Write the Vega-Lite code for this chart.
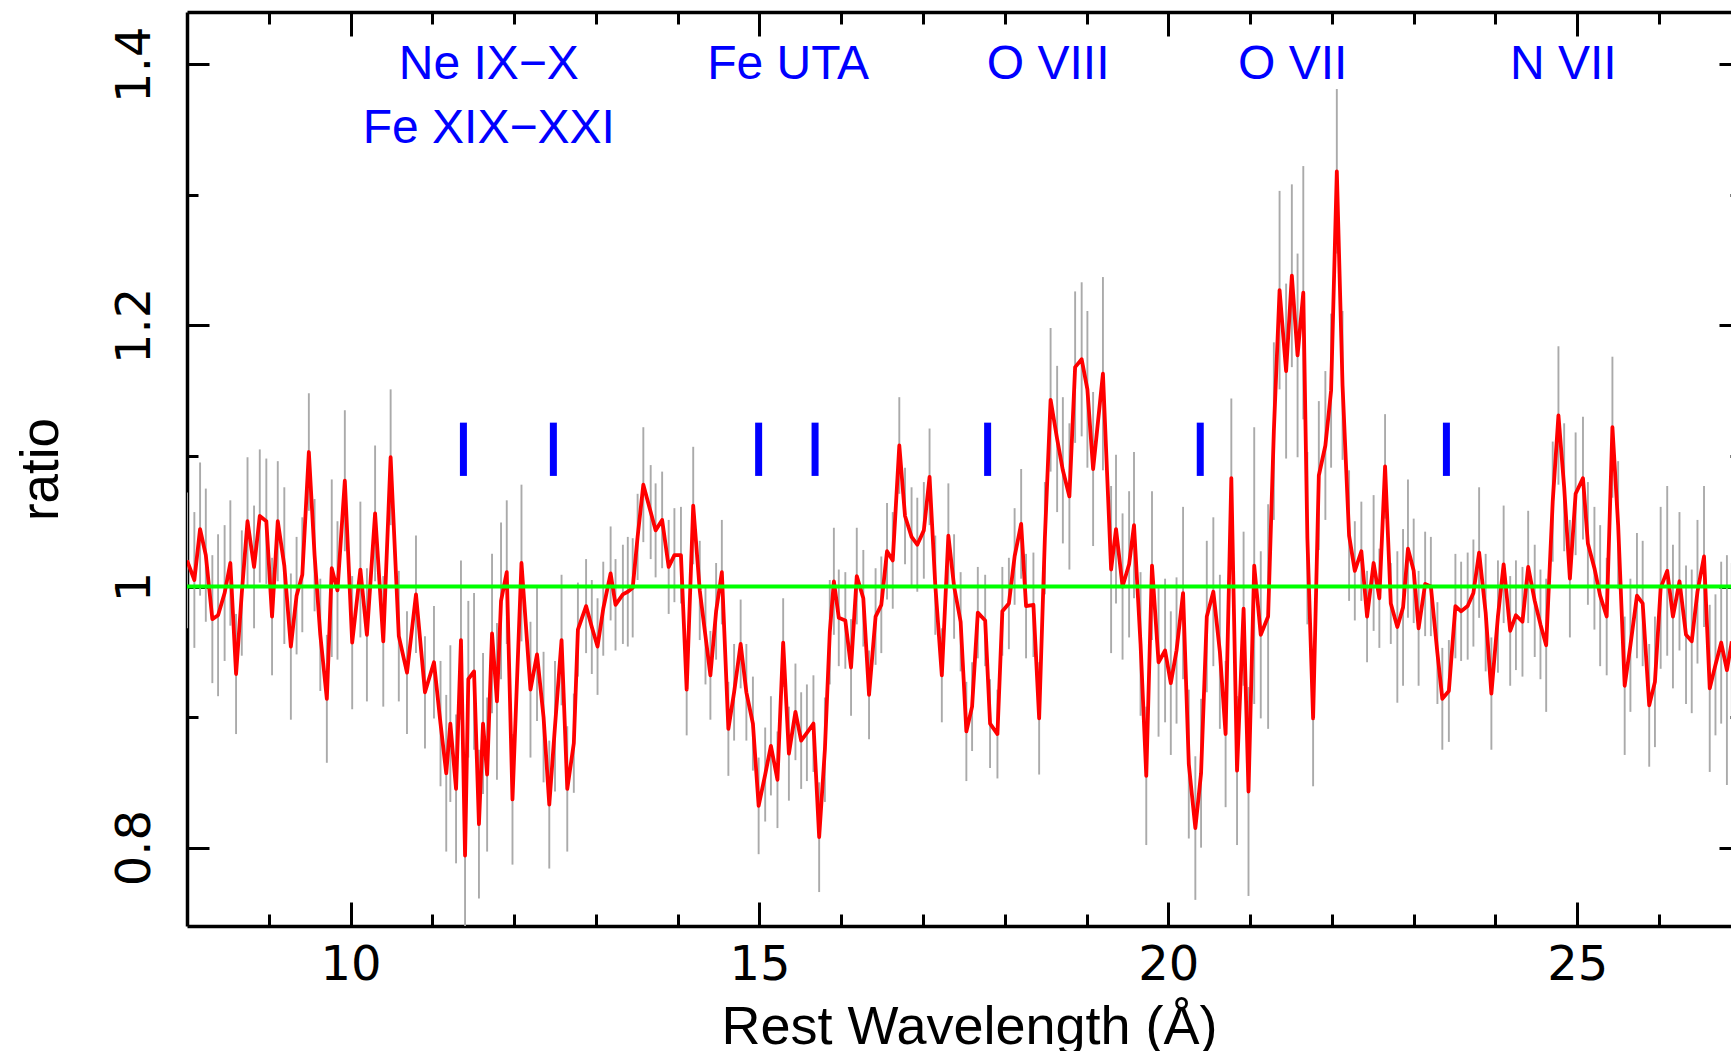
{
  "$schema": "https://vega.github.io/schema/vega-lite/v6.json",
  "width": 1544,
  "height": 914,
  "autosize": {"type": "none"},
  "padding": {"left": 187, "top": 12, "right": 0, "bottom": 125},
  "background": "white",
  "config": {"view": {"stroke": null}},
  "datasets": {
    "spec": [
      {"w":8.00,"r":1.020,"e":0.052},{"w":8.09,"r":1.005,"e":0.052},{"w":8.16,"r":1.044,"e":0.051},{"w":8.23,"r":1.024,"e":0.051},
      {"w":8.31,"r":0.975,"e":0.049},{"w":8.38,"r":0.978,"e":0.062},{"w":8.46,"r":0.995,"e":0.052},{"w":8.53,"r":1.018,"e":0.048},
      {"w":8.60,"r":0.933,"e":0.046},{"w":8.67,"r":0.995,"e":0.048},{"w":8.74,"r":1.050,"e":0.049},{"w":8.82,"r":1.015,"e":0.047},
      {"w":8.89,"r":1.054,"e":0.051},{"w":8.97,"r":1.050,"e":0.048},{"w":9.04,"r":0.977,"e":0.045},{"w":9.11,"r":1.050,"e":0.046},
      {"w":9.19,"r":1.016,"e":0.060},{"w":9.27,"r":0.954,"e":0.056},{"w":9.34,"r":0.993,"e":0.045},{"w":9.41,"r":1.009,"e":0.044},
      {"w":9.49,"r":1.103,"e":0.045},{"w":9.56,"r":1.024,"e":0.043},{"w":9.63,"r":0.963,"e":0.043},{"w":9.71,"r":0.914,"e":0.049},
      {"w":9.77,"r":1.014,"e":0.068},{"w":9.84,"r":0.997,"e":0.053},{"w":9.93,"r":1.081,"e":0.054},{"w":10.02,"r":0.957,"e":0.051},
      {"w":10.12,"r":1.013,"e":0.052},{"w":10.20,"r":0.963,"e":0.051},{"w":10.30,"r":1.056,"e":0.052},{"w":10.40,"r":0.958,"e":0.050},
      {"w":10.49,"r":1.099,"e":0.052},{"w":10.59,"r":0.962,"e":0.050},{"w":10.69,"r":0.934,"e":0.047},{"w":10.80,"r":0.994,"e":0.045},
      {"w":10.91,"r":0.919,"e":0.043},{"w":11.02,"r":0.942,"e":0.043},{"w":11.10,"r":0.895,"e":0.048},{"w":11.17,"r":0.857,"e":0.060},
      {"w":11.22,"r":0.895,"e":0.060},{"w":11.29,"r":0.845,"e":0.057},{"w":11.35,"r":0.959,"e":0.061},{"w":11.40,"r":0.794,"e":0.057},
      {"w":11.44,"r":0.929,"e":0.060},{"w":11.51,"r":0.935,"e":0.060},{"w":11.57,"r":0.818,"e":0.057},{"w":11.62,"r":0.895,"e":0.054},
      {"w":11.67,"r":0.856,"e":0.059},{"w":11.73,"r":0.964,"e":0.061},{"w":11.79,"r":0.912,"e":0.060},{"w":11.84,"r":0.989,"e":0.060},
      {"w":11.91,"r":1.011,"e":0.055},{"w":11.98,"r":0.837,"e":0.050},{"w":12.09,"r":1.018,"e":0.060},{"w":12.20,"r":0.921,"e":0.052},
      {"w":12.28,"r":0.948,"e":0.051},{"w":12.36,"r":0.900,"e":0.050},{"w":12.43,"r":0.833,"e":0.049},{"w":12.50,"r":0.893,"e":0.050},
      {"w":12.58,"r":0.959,"e":0.050},{"w":12.65,"r":0.845,"e":0.048},{"w":12.73,"r":0.880,"e":0.038},{"w":12.78,"r":0.967,"e":0.036},
      {"w":12.88,"r":0.985,"e":0.036},{"w":12.95,"r":0.969,"e":0.036},{"w":13.02,"r":0.954,"e":0.037},{"w":13.09,"r":0.983,"e":0.036},
      {"w":13.18,"r":1.010,"e":0.036},{"w":13.24,"r":0.986,"e":0.035},{"w":13.33,"r":0.994,"e":0.038},{"w":13.39,"r":0.996,"e":0.042},
      {"w":13.45,"r":0.999,"e":0.038},{"w":13.51,"r":1.038,"e":0.033},{"w":13.58,"r":1.078,"e":0.044},{"w":13.67,"r":1.057,"e":0.036},
      {"w":13.73,"r":1.043,"e":0.036},{"w":13.81,"r":1.051,"e":0.037},{"w":13.89,"r":1.015,"e":0.036},{"w":13.96,"r":1.024,"e":0.036},
      {"w":14.04,"r":1.024,"e":0.037},{"w":14.11,"r":0.921,"e":0.035},{"w":14.19,"r":1.062,"e":0.045},{"w":14.27,"r":0.997,"e":0.038},
      {"w":14.34,"r":0.962,"e":0.037},{"w":14.40,"r":0.932,"e":0.034},{"w":14.47,"r":0.981,"e":0.037},{"w":14.54,"r":1.011,"e":0.040},
      {"w":14.62,"r":0.891,"e":0.036},{"w":14.69,"r":0.919,"e":0.037},{"w":14.77,"r":0.956,"e":0.034},{"w":14.84,"r":0.919,"e":0.037},
      {"w":14.92,"r":0.895,"e":0.036},{"w":14.99,"r":0.832,"e":0.037},{"w":15.07,"r":0.856,"e":0.036},{"w":15.14,"r":0.878,"e":0.038},
      {"w":15.22,"r":0.852,"e":0.037},{"w":15.29,"r":0.957,"e":0.034},{"w":15.36,"r":0.872,"e":0.036},{"w":15.44,"r":0.904,"e":0.037},
      {"w":15.51,"r":0.882,"e":0.037},{"w":15.58,"r":0.888,"e":0.037},{"w":15.66,"r":0.895,"e":0.037},{"w":15.73,"r":0.808,"e":0.042},
      {"w":15.80,"r":0.875,"e":0.040},{"w":15.86,"r":0.965,"e":0.040},{"w":15.91,"r":1.004,"e":0.041},{"w":15.97,"r":0.976,"e":0.037},
      {"w":16.05,"r":0.974,"e":0.037},{"w":16.12,"r":0.938,"e":0.037},{"w":16.19,"r":1.008,"e":0.037},{"w":16.27,"r":0.991,"e":0.037},
      {"w":16.34,"r":0.917,"e":0.034},{"w":16.42,"r":0.977,"e":0.037},{"w":16.49,"r":0.986,"e":0.037},{"w":16.56,"r":1.027,"e":0.037},
      {"w":16.63,"r":1.020,"e":0.037},{"w":16.71,"r":1.108,"e":0.037},{"w":16.78,"r":1.054,"e":0.037},{"w":16.86,"r":1.038,"e":0.038},
      {"w":16.93,"r":1.032,"e":0.036},{"w":17.01,"r":1.043,"e":0.037},{"w":17.08,"r":1.084,"e":0.037},{"w":17.15,"r":1.001,"e":0.038},
      {"w":17.23,"r":0.932,"e":0.036},{"w":17.31,"r":1.039,"e":0.040},{"w":17.38,"r":1.000,"e":0.040},{"w":17.46,"r":0.973,"e":0.038},
      {"w":17.53,"r":0.889,"e":0.038},{"w":17.60,"r":0.908,"e":0.034},{"w":17.67,"r":0.980,"e":0.035},{"w":17.76,"r":0.974,"e":0.035},
      {"w":17.82,"r":0.895,"e":0.034},{"w":17.91,"r":0.887,"e":0.034},{"w":17.97,"r":0.981,"e":0.034},{"w":18.05,"r":0.987,"e":0.035},
      {"w":18.12,"r":1.023,"e":0.037},{"w":18.20,"r":1.048,"e":0.042},{"w":18.26,"r":0.985,"e":0.040},{"w":18.35,"r":0.986,"e":0.040},
      {"w":18.42,"r":0.899,"e":0.043},{"w":18.49,"r":1.037,"e":0.043},{"w":18.56,"r":1.143,"e":0.055},{"w":18.64,"r":1.113,"e":0.056},
      {"w":18.71,"r":1.089,"e":0.056},{"w":18.79,"r":1.069,"e":0.056},{"w":18.86,"r":1.168,"e":0.058},{"w":18.94,"r":1.174,"e":0.059},
      {"w":19.01,"r":1.151,"e":0.060},{"w":19.08,"r":1.090,"e":0.059},{"w":19.20,"r":1.163,"e":0.074},{"w":19.30,"r":1.013,"e":0.064},
      {"w":19.36,"r":1.044,"e":0.057},{"w":19.44,"r":1.000,"e":0.056},{"w":19.52,"r":1.017,"e":0.056},{"w":19.58,"r":1.047,"e":0.056},
      {"w":19.66,"r":0.956,"e":0.055},{"w":19.73,"r":0.855,"e":0.053},{"w":19.80,"r":1.016,"e":0.057},{"w":19.88,"r":0.942,"e":0.057},
      {"w":19.96,"r":0.951,"e":0.055},{"w":20.03,"r":0.926,"e":0.055},{"w":20.10,"r":0.951,"e":0.056},{"w":20.18,"r":0.995,"e":0.066},
      {"w":20.25,"r":0.864,"e":0.057},{"w":20.33,"r":0.815,"e":0.055},{"w":20.40,"r":0.857,"e":0.057},{"w":20.47,"r":0.977,"e":0.058},
      {"w":20.55,"r":0.996,"e":0.057},{"w":20.63,"r":0.950,"e":0.059},{"w":20.70,"r":0.887,"e":0.056},{"w":20.77,"r":1.083,"e":0.061},
      {"w":20.84,"r":0.859,"e":0.057},{"w":20.92,"r":0.983,"e":0.059},{"w":20.98,"r":0.843,"e":0.080},{"w":21.05,"r":1.016,"e":0.106},
      {"w":21.13,"r":0.963,"e":0.064},{"w":21.22,"r":0.977,"e":0.086},{"w":21.29,"r":1.119,"e":0.068},{"w":21.36,"r":1.227,"e":0.076},
      {"w":21.44,"r":1.165,"e":0.067},{"w":21.51,"r":1.238,"e":0.070},{"w":21.58,"r":1.177,"e":0.078},{"w":21.65,"r":1.225,"e":0.097},
      {"w":21.70,"r":1.037,"e":0.066},{"w":21.77,"r":0.899,"e":0.052},{"w":21.84,"r":1.085,"e":0.057},{"w":21.92,"r":1.108,"e":0.057},
      {"w":21.99,"r":1.150,"e":0.059},{"w":22.06,"r":1.318,"e":0.063},{"w":22.13,"r":1.154,"e":0.057},{"w":22.21,"r":1.039,"e":0.050},
      {"w":22.28,"r":1.012,"e":0.038},{"w":22.36,"r":1.027,"e":0.038},{"w":22.43,"r":0.977,"e":0.035},{"w":22.51,"r":1.018,"e":0.052},
      {"w":22.58,"r":0.991,"e":0.038},{"w":22.65,"r":1.092,"e":0.040},{"w":22.72,"r":0.987,"e":0.031},{"w":22.80,"r":0.969,"e":0.058},
      {"w":22.87,"r":0.984,"e":0.060},{"w":22.93,"r":1.029,"e":0.053},{"w":23.00,"r":1.012,"e":0.040},{"w":23.06,"r":0.968,"e":0.044},
      {"w":23.14,"r":1.002,"e":0.040},{"w":23.21,"r":1.000,"e":0.038},{"w":23.29,"r":0.949,"e":0.039},{"w":23.35,"r":0.914,"e":0.039},
      {"w":23.43,"r":0.920,"e":0.039},{"w":23.51,"r":0.985,"e":0.040},{"w":23.58,"r":0.981,"e":0.038},{"w":23.66,"r":0.985,"e":0.041},
      {"w":23.73,"r":0.995,"e":0.041},{"w":23.80,"r":1.026,"e":0.050},{"w":23.88,"r":0.980,"e":0.045},{"w":23.95,"r":0.918,"e":0.043},
      {"w":24.03,"r":0.977,"e":0.043},{"w":24.10,"r":1.017,"e":0.045},{"w":24.18,"r":0.966,"e":0.042},{"w":24.25,"r":0.978,"e":0.042},
      {"w":24.33,"r":0.973,"e":0.042},{"w":24.40,"r":1.015,"e":0.043},{"w":24.48,"r":0.989,"e":0.043},{"w":24.55,"r":0.971,"e":0.042},
      {"w":24.62,"r":0.955,"e":0.051},{"w":24.70,"r":1.065,"e":0.046},{"w":24.77,"r":1.131,"e":0.053},{"w":24.84,"r":1.076,"e":0.049},
      {"w":24.91,"r":1.006,"e":0.045},{"w":24.98,"r":1.071,"e":0.047},{"w":25.07,"r":1.083,"e":0.047},{"w":25.13,"r":1.033,"e":0.047},
      {"w":25.21,"r":1.014,"e":0.047},{"w":25.28,"r":0.993,"e":0.054},{"w":25.36,"r":0.977,"e":0.045},{"w":25.43,"r":1.122,"e":0.054},
      {"w":25.50,"r":1.047,"e":0.049},{"w":25.58,"r":0.924,"e":0.053},{"w":25.65,"r":0.955,"e":0.051},{"w":25.73,"r":0.993,"e":0.048},
      {"w":25.80,"r":0.987,"e":0.048},{"w":25.88,"r":0.909,"e":0.047},{"w":25.95,"r":0.927,"e":0.050},{"w":26.02,"r":0.999,"e":0.062},
      {"w":26.10,"r":1.012,"e":0.065},{"w":26.17,"r":0.977,"e":0.055},{"w":26.25,"r":1.004,"e":0.053},{"w":26.33,"r":0.963,"e":0.053},
      {"w":26.40,"r":0.958,"e":0.055},{"w":26.47,"r":0.996,"e":0.055},{"w":26.55,"r":1.023,"e":0.054},{"w":26.62,"r":0.922,"e":0.064},
      {"w":26.69,"r":0.940,"e":0.054},{"w":26.76,"r":0.957,"e":0.062},{"w":26.83,"r":0.936,"e":0.088},{"w":26.89,"r":0.958,"e":0.060}
    ],
    "lines": [
      {"w": 11.38}, {"w": 12.48}, {"w": 14.99}, {"w": 15.68}, {"w": 17.79}, {"w": 20.39}, {"w": 23.40}
    ],
    "labels1": [
      {"label": "Ne IX−X", "w": 11.69, "ratio": 1.389},
      {"label": "Fe UTA", "w": 15.35, "ratio": 1.389},
      {"label": "O VIII", "w": 18.53, "ratio": 1.389},
      {"label": "O VII", "w": 21.52, "ratio": 1.389},
      {"label": "N VII", "w": 24.83, "ratio": 1.389}
    ],
    "labels2": [
      {"label": "Fe XIX−XXI", "w": 11.69, "ratio": 1.340}
    ],
    "unity": [{"ratio": 1}]
  },
  "layer": [
    {
      "data": {"name": "spec"},
      "mark": {"type": "errorbar", "color": "#aaaaaa", "thickness": 1.9, "clip": true},
      "encoding": {
        "x": {
          "field": "w", "type": "quantitative",
          "scale": {"domain": [8, 26.88], "nice": false, "zero": false},
          "axis": {
            "orient": "bottom", "values": [10, 15, 20, 25],
            "labels": false, "title": null, "grid": false, "domain": false,
            "ticks": true, "tickSize": -24, "tickColor": "black", "tickWidth": 3
          }
        },
        "y": {
          "field": "r", "type": "quantitative",
          "scale": {"domain": [0.74, 1.44], "nice": false, "zero": false},
          "axis": {
            "orient": "left", "values": [0.8, 1, 1.2, 1.4],
            "labels": false, "title": null, "grid": false, "domain": false,
            "ticks": true, "tickSize": -22, "tickColor": "black", "tickWidth": 3
          }
        },
        "yError": {"field": "e"}
      }
    },
    {
      "data": {"name": "lines"},
      "mark": {"type": "rule", "color": "#0000ff", "strokeWidth": 7, "strokeCap": "butt"},
      "encoding": {
        "x": {
          "field": "w", "type": "quantitative",
          "scale": {"domain": [8, 26.88], "nice": false, "zero": false},
          "axis": {
            "orient": "bottom", "values": [9, 11, 12, 13, 14, 16, 17, 18, 19, 21, 22, 23, 24, 26],
            "labels": false, "title": null, "grid": false, "domain": false,
            "ticks": true, "tickSize": -12, "tickColor": "black", "tickWidth": 3
          }
        },
        "y": {"datum": 1.0847, "type": "quantitative", "scale": {"domain": [0.74, 1.44], "nice": false, "zero": false}, "axis": null},
        "y2": {"datum": 1.1255}
      }
    },
    {
      "data": {"name": "spec"},
      "mark": {"type": "line", "color": "#ff0000", "strokeWidth": 3.8, "clip": true, "strokeJoin": "round"},
      "encoding": {
        "x": {
          "field": "w", "type": "quantitative",
          "scale": {"domain": [8, 26.88], "nice": false, "zero": false},
          "axis": {
            "orient": "bottom",
            "values": [10, 15, 20, 25],
            "format": "d",
            "labelFont": "DejaVu Sans", "labelFontSize": 48, "labelColor": "black",
            "labelPadding": 53, "labelBaseline": "alphabetic", "labelAlign": "center",
            "labelOverlap": false, "labelFlush": false,
            "ticks": false,
            "domainColor": "black", "domainWidth": 3.5,
            "grid": false,
            "title": "Rest Wavelength (Å)",
            "titleFont": "Liberation Sans", "titleFontSize": 54, "titleFontWeight": "normal", "titleColor": "black",
            "titleX": 782, "titleY": 117, "titleBaseline": "alphabetic", "titleAlign": "center"
          }
        },
        "y": {
          "field": "r", "type": "quantitative",
          "scale": {"domain": [0.74, 1.44], "nice": false, "zero": false},
          "axis": {
            "orient": "left",
            "values": [0.8, 1, 1.2, 1.4],
            "format": "~g",
            "labelFont": "DejaVu Sans", "labelFontSize": 48, "labelColor": "black",
            "labelAngle": -90, "labelAlign": "center", "labelBaseline": "alphabetic", "labelPadding": 38,
            "labelOverlap": false, "labelFlush": false,
            "ticks": false,
            "domainColor": "black", "domainWidth": 3.5,
            "grid": false,
            "title": "ratio",
            "titleFont": "Liberation Sans", "titleFontSize": 53, "titleFontWeight": "normal", "titleColor": "black",
            "titleAngle": -90, "titleX": -130, "titleY": 457, "titleBaseline": "alphabetic", "titleAlign": "center"
          }
        }
      }
    },
    {
      "data": {"name": "unity"},
      "mark": {"type": "rule", "color": "#00ff00", "strokeWidth": 4},
      "encoding": {
        "y": {
          "field": "ratio", "type": "quantitative",
          "scale": {"domain": [0.74, 1.44], "nice": false, "zero": false},
          "axis": {
            "orient": "left", "values": [0.9, 1.1, 1.3],
            "labels": false, "title": null, "grid": false, "domain": false,
            "ticks": true, "tickSize": -11, "tickColor": "black", "tickWidth": 3
          }
        }
      }
    },
    {
      "data": {"name": "labels1"},
      "mark": {"type": "text", "color": "#0000ff", "font": "Liberation Sans", "fontSize": 48, "align": "center", "baseline": "alphabetic"},
      "encoding": {
        "text": {"field": "label"},
        "x": {
          "field": "w", "type": "quantitative",
          "scale": {"domain": [8, 26.88], "nice": false, "zero": false},
          "axis": {
            "orient": "top", "values": [10, 15, 20, 25],
            "labels": false, "title": null, "grid": false,
            "ticks": true, "tickSize": -24, "tickColor": "black", "tickWidth": 3,
            "domain": true, "domainColor": "black", "domainWidth": 3.5
          }
        },
        "y": {
          "field": "ratio", "type": "quantitative",
          "scale": {"domain": [0.74, 1.44], "nice": false, "zero": false},
          "axis": {
            "orient": "right", "offset": 10, "values": [0.8, 1, 1.2, 1.4],
            "labels": false, "title": null, "grid": false, "domain": false,
            "ticks": true, "tickSize": -22, "tickColor": "black", "tickWidth": 3
          }
        }
      }
    },
    {
      "data": {"name": "labels2"},
      "mark": {"type": "text", "color": "#0000ff", "font": "Liberation Sans", "fontSize": 48, "align": "center", "baseline": "alphabetic"},
      "encoding": {
        "text": {"field": "label"},
        "x": {
          "field": "w", "type": "quantitative",
          "scale": {"domain": [8, 26.88], "nice": false, "zero": false},
          "axis": {
            "orient": "top", "values": [9, 11, 12, 13, 14, 16, 17, 18, 19, 21, 22, 23, 24, 26],
            "labels": false, "title": null, "grid": false, "domain": false,
            "ticks": true, "tickSize": -12, "tickColor": "black", "tickWidth": 3
          }
        },
        "y": {
          "field": "ratio", "type": "quantitative",
          "scale": {"domain": [0.74, 1.44], "nice": false, "zero": false},
          "axis": {
            "orient": "right", "offset": 10, "values": [0.9, 1.1, 1.3],
            "labels": false, "title": null, "grid": false, "domain": false,
            "ticks": true, "tickSize": -11, "tickColor": "black", "tickWidth": 3
          }
        }
      }
    }
  ],
  "resolve": {"axis": {"x": "independent", "y": "independent"}}
}
